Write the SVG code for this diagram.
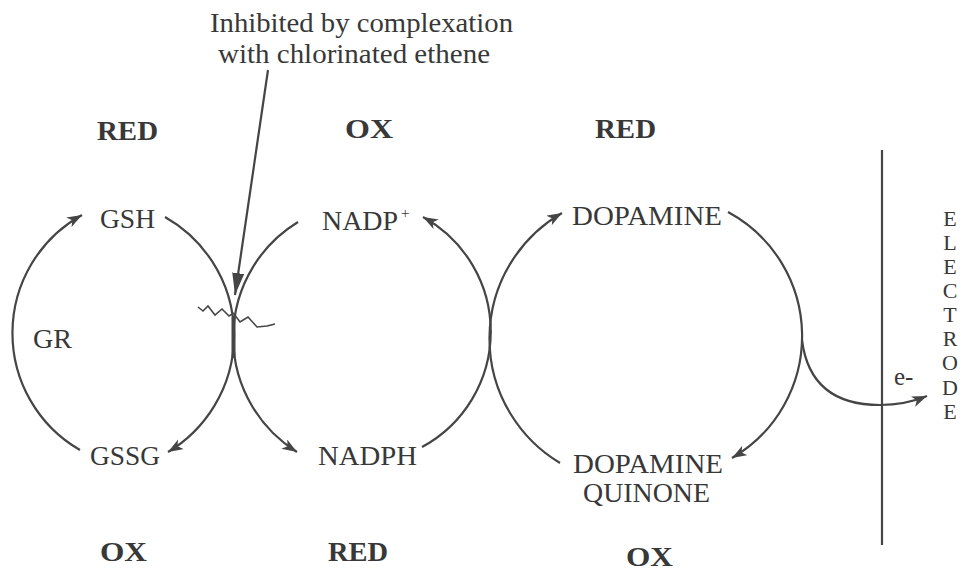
<svg xmlns="http://www.w3.org/2000/svg" width="961" height="572" viewBox="0 0 961 572">
<defs>
<style>
.t{font-family:"Liberation Serif","Times New Roman",serif;font-size:27px;fill:#383838}
.b{font-family:"Liberation Serif","Times New Roman",serif;font-size:27px;font-weight:bold;fill:#383838}
.el{font-family:"Liberation Serif","Times New Roman",serif;font-size:22px;fill:#383838}
.ln{fill:none;stroke:#454545;stroke-width:2.2}
</style>
<marker id="ah" markerUnits="userSpaceOnUse" markerWidth="17" markerHeight="12" refX="15" refY="5.5" orient="auto">
<path d="M0,0 L15,5.5 L0,11 L4,5.5 z" fill="#454545"/>
</marker>
<marker id="ah2" markerUnits="userSpaceOnUse" markerWidth="24" markerHeight="14" refX="22" refY="6" orient="auto">
<path d="M0,0 L22,6 L0,12 z" fill="#454545"/>
</marker>
</defs>
<rect width="961" height="572" fill="#ffffff"/>

<g id="note">
<text class="t" x="210" y="32" textLength="303" lengthAdjust="spacingAndGlyphs">Inhibited by complexation</text>
<text class="t" x="218" y="63" textLength="272" lengthAdjust="spacingAndGlyphs">with chlorinated ethene</text>
</g>

<g id="states">
<text class="b" x="97" y="140" textLength="61" lengthAdjust="spacingAndGlyphs">RED</text>
<text class="b" x="345" y="138" textLength="48" lengthAdjust="spacingAndGlyphs">OX</text>
<text class="b" x="595" y="138" textLength="61" lengthAdjust="spacingAndGlyphs">RED</text>
<text class="b" x="100" y="561" textLength="47" lengthAdjust="spacingAndGlyphs">OX</text>
<text class="b" x="328" y="561" textLength="60" lengthAdjust="spacingAndGlyphs">RED</text>
<text class="b" x="626" y="566" textLength="47" lengthAdjust="spacingAndGlyphs">OX</text>
</g>

<g id="GSH"><text class="t" x="100" y="228" textLength="55" lengthAdjust="spacingAndGlyphs">GSH</text></g>
<g id="GSSG"><text class="t" x="90" y="465" textLength="70" lengthAdjust="spacingAndGlyphs">GSSG</text></g>
<g id="GR"><text class="t" x="33" y="348" textLength="39" lengthAdjust="spacingAndGlyphs">GR</text></g>
<g id="NADPplus"><text class="t" x="322" y="230"><tspan textLength="76" lengthAdjust="spacingAndGlyphs">NADP</tspan><tspan x="401" y="218" style="font-size:15px">+</tspan></text></g>
<g id="NADPH"><text class="t" x="318" y="465" textLength="99" lengthAdjust="spacingAndGlyphs">NADPH</text></g>
<g id="DOPAMINE"><text class="t" x="572" y="225" textLength="150" lengthAdjust="spacingAndGlyphs">DOPAMINE</text></g>
<g id="DOPAMINEQUINONE">
<text class="t" x="573" y="473" textLength="150" lengthAdjust="spacingAndGlyphs">DOPAMINE</text>
<text class="t" x="583" y="502" textLength="127" lengthAdjust="spacingAndGlyphs">QUINONE</text>
</g>
<g id="electrode">
<line class="ln" x1="882" y1="150" x2="882" y2="545"/>
<text class="el" text-anchor="middle"><tspan x="950" y="226">E</tspan><tspan x="950" y="250">L</tspan><tspan x="950" y="274">E</tspan><tspan x="950" y="298">C</tspan><tspan x="950" y="322">T</tspan><tspan x="950" y="346">R</tspan><tspan x="950" y="370">O</tspan><tspan x="950" y="395">D</tspan><tspan x="950" y="419">E</tspan></text>
</g>
<g id="eminus"><text class="t" x="894" y="385" style="font-size:25px">e-</text></g>

<g id="connectors">
<path class="ln" d="M80,450 A135,135 0 0 1 82,215" marker-end="url(#ah)"/>
<path class="ln" d="M165,217 A136,136 0 0 1 168,452" marker-end="url(#ah)"/>
<path class="ln" d="M298,222 A135,135 0 0 0 297,452" marker-end="url(#ah)"/>
<path class="ln" d="M422,447 A131,131 0 0 0 423,217" marker-end="url(#ah)"/>
<path class="ln" d="M560,463 A145,145 0 0 1 562,213" marker-end="url(#ah)"/>
<path class="ln" d="M728,212 A141,141 0 0 1 732,458" marker-end="url(#ah)"/>
<path class="ln" d="M802,340 C808,388 838,405 880,405 Q905,405 927,396" marker-end="url(#ah)"/>
<path class="ln" d="M268,70 L235,295" marker-end="url(#ah2)"/>
<line x1="233.5" y1="318" x2="233.5" y2="356" stroke="#454545" stroke-width="4" stroke-linecap="round"/>
<path class="ln" style="stroke-width:1.6" d="M198,307 L203,311 L208,306 L215,315 L222,309 L229,316 L234,313"/>
<path class="ln" style="stroke-width:1.6" d="M234,314 L240,322 L248,317 L257,327 L267,326 L275,324"/>
</g>
</svg>
